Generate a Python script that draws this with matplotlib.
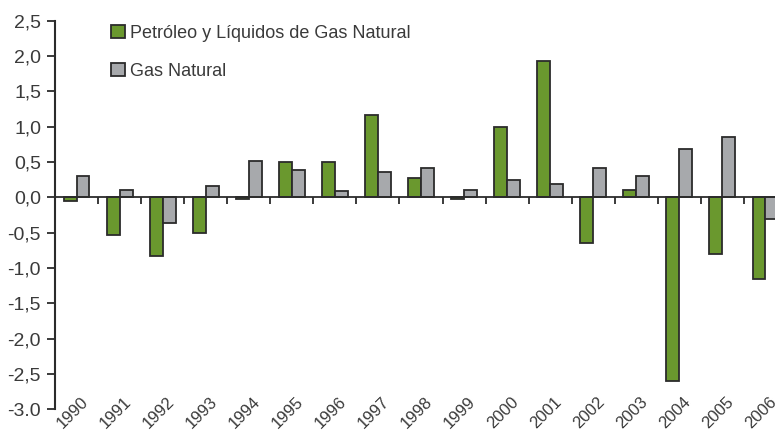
import matplotlib
matplotlib.use("Agg")
import matplotlib.pyplot as plt
import matplotlib.transforms as mtransforms
import numpy as np

years = ["1990", "1991", "1992", "1993", "1994", "1995", "1996", "1997", "1998",
         "1999", "2000", "2001", "2002", "2003", "2004", "2005", "2006"]
petroleo = [-0.05, -0.53, -0.83, -0.50, -0.03, 0.50, 0.50, 1.16, 0.27,
            -0.02, 0.99, 1.93, -0.64, 0.11, -2.60, -0.80, -1.16]
gas = [0.30, 0.11, -0.37, 0.16, 0.52, 0.39, 0.085, 0.36, 0.41,
       0.11, 0.245, 0.19, 0.41, 0.30, 0.68, 0.85, -0.31]
ytick_vals = [2.5, 2.0, 1.5, 1.0, 0.5, 0.0, -0.5, -1.0, -1.5, -2.0, -2.5, -3.0]
ytick_labels = ["2,5", "2,0", "1,5", "1,0", "0,5", "0,0", "-0,5", "-1,0",
                "-1,5", "-2,0", "-2,5", "-3.0"]
legend_labels = ["Petróleo y Líquidos de Gas Natural", "Gas Natural"]

GREEN = "#6a982e"
GRAY = "#a7a9ac"
EDGE = "#2b2b2b"
TXT = "#3a3a3a"

plt.rcParams['font.family'] = ['Liberation Sans', 'DejaVu Sans']

fig = plt.figure(figsize=(7.75, 4.32), dpi=100)
W, H = 775, 432
left_px, right_px = 55.0, 787.0
top_px, bot_px = 20.7, 409.3
ax = fig.add_axes([left_px / W, 1 - bot_px / H, (right_px - left_px) / W, (bot_px - top_px) / H])

x = np.arange(len(years))
bw = 0.30
ax.bar(x - bw / 2, petroleo, bw, color=GREEN, edgecolor=EDGE, linewidth=1.3,
       label=legend_labels[0], zorder=3)
ax.bar(x + bw / 2, gas, bw, color=GRAY, edgecolor=EDGE, linewidth=1.3,
       label=legend_labels[1], zorder=3)

ax.set_xlim(-0.5, len(years) - 0.5)
ax.set_ylim(-3.0, 2.5)

for s in ["top", "right"]:
    ax.spines[s].set_visible(False)
ax.spines["left"].set_color(EDGE)
ax.spines["left"].set_linewidth(1.5)
ax.spines["bottom"].set_position(("data", 0))
ax.spines["bottom"].set_color(EDGE)
ax.spines["bottom"].set_linewidth(1.3)
ax.spines["bottom"].set_zorder(4)

ax.set_yticks(ytick_vals)
ax.set_yticklabels(ytick_labels, fontsize=14, color=TXT)
ax.tick_params(axis="y", direction="out", length=6, width=1.3, color=EDGE, pad=4)

ax.set_xticks(np.arange(len(years) - 1) + 0.5)
ax.set_xticklabels([])
ax.tick_params(axis="x", direction="out", length=5, width=1.3, color=EDGE)

# category labels at the bottom
off = mtransforms.ScaledTranslation(-4.0 / 100, -3.5 / 100, fig.dpi_scale_trans)
trans = mtransforms.blended_transform_factory(ax.transData, ax.transAxes) + off
for xi, lab in zip(x, years):
    ax.text(xi, 0, lab, transform=trans, rotation=45, ha="center", va="center",
            fontsize=12, color=TXT, rotation_mode="anchor", clip_on=False)

leg = ax.legend(loc="upper left", bbox_to_anchor=(111 / W, 1 - 25 / H),
                bbox_transform=fig.transFigure, frameon=False, fontsize=13,
                handlelength=0.75, handleheight=0.75, handletextpad=0.3,
                labelspacing=1.15, borderpad=0, borderaxespad=0)
for t in leg.get_texts():
    t.set_color(TXT)

fig.savefig("out.png", dpi=100)
